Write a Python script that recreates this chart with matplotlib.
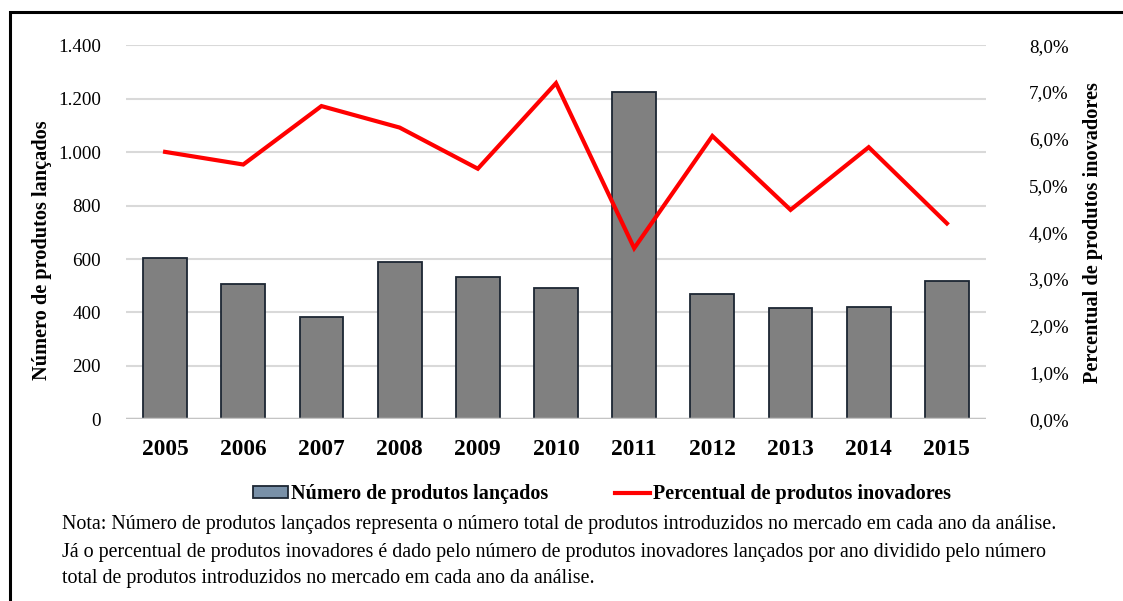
import matplotlib
matplotlib.use("Agg")
import matplotlib.pyplot as plt
from matplotlib.patches import Patch, Rectangle
from matplotlib.lines import Line2D
from matplotlib.ticker import FuncFormatter, MultipleLocator

plt.rcParams['font.family'] = ['Liberation Serif', 'DejaVu Serif']

years = ['2005', '2006', '2007', '2008', '2009', '2010', '2011', '2012', '2013', '2014', '2015']
produtos_lancados = [603, 507, 384, 588, 534, 491, 1226, 469, 417, 422, 518]
percentual_inovadores = [5.72, 5.45, 6.70, 6.24, 5.36, 7.19, 3.66, 6.06, 4.48, 5.82, 4.19]

bar_label = 'Número de produtos lançados'
line_label = 'Percentual de produtos inovadores'
nota = ['Nota: Número de produtos lançados representa o número total de produtos introduzidos no mercado em cada ano da análise.',
        'Já o percentual de produtos inovadores é dado pelo número de produtos inovadores lançados por ano dividido pelo número',
        'total de produtos introduzidos no mercado em cada ano da análise.']

W, H = 1123, 601
fig = plt.figure(figsize=(W / 100, H / 100), dpi=100)
ax = fig.add_axes([126 / W, 1 - 419.3 / H, (986 - 126) / W, (419.3 - 45.3) / H])
ax2 = ax.twinx()

x = list(range(len(years)))
ax.bar(x, produtos_lancados, width=0.56, color='#808080', edgecolor='#1c2633', linewidth=1.3, zorder=3)
ax.set_ylim(0, 1400)
ax.set_xlim(-0.5, len(years) - 0.5)
ax.yaxis.set_major_locator(MultipleLocator(200))
ax.yaxis.set_major_formatter(FuncFormatter(lambda v, p: f'{int(v):,}'.replace(',', '.')))
ax.grid(axis='y', color='#d9d9d9', linewidth=1.5, zorder=0)
ax.set_axisbelow(True)
ax.set_xticks(x)
ax.set_xticklabels(years, fontsize=16.8, fontweight='bold')
ax.tick_params(axis='x', length=0, pad=14)
ax.tick_params(axis='y', length=0, pad=18, labelsize=13.7)

ax2.plot(x, percentual_inovadores, color='#ff0000', linewidth=3, zorder=4, solid_joinstyle='miter')
ax2.set_ylim(0, 8)
ax2.yaxis.set_major_locator(MultipleLocator(1))
ax2.yaxis.set_major_formatter(FuncFormatter(lambda v, p: f'{v:.1f}%'.replace('.', ',')))
ax2.tick_params(axis='y', length=0, pad=31, labelsize=13.7)

for a in (ax, ax2):
    for s in ('top', 'left', 'right', 'bottom'):
        a.spines[s].set_visible(False)
ax.axhline(0, color='#c4c4c4', linewidth=2.5, zorder=5)

fig.text(42 / W, 1 - 250 / H, bar_label, rotation=90, ha='center', va='center', fontsize=14.6, fontweight='bold')
fig.text(1093 / W, 1 - 233 / H, line_label, rotation=90, ha='center', va='center', fontsize=14.6, fontweight='bold')

handles = [Patch(facecolor='#7890a8', edgecolor='#1c2633', linewidth=1.3),
           Line2D([0], [0], color='#ff0000', linewidth=3)]
fig.legend(handles, [bar_label, line_label], loc='center', bbox_to_anchor=(602 / W, 1 - 494 / H),
           ncol=2, frameon=False, prop={'size': 14.5, 'weight': 'bold'}, handlelength=1.74,
           handletextpad=0.15, columnspacing=3.3, handleheight=0.5, borderpad=0, borderaxespad=0)

for i, line in enumerate(nota):
    fig.text(62 / W, 1 - (525 + 27 * i) / H, line, ha='left', va='center', fontsize=14.45)

fig.add_artist(Rectangle((9.5 / W, -0.1), 1.2, 1 - 11.5 / H + 0.1, transform=fig.transFigure,
                         fill=False, edgecolor='black', linewidth=2.2))

fig.savefig('out.png', dpi=100)
